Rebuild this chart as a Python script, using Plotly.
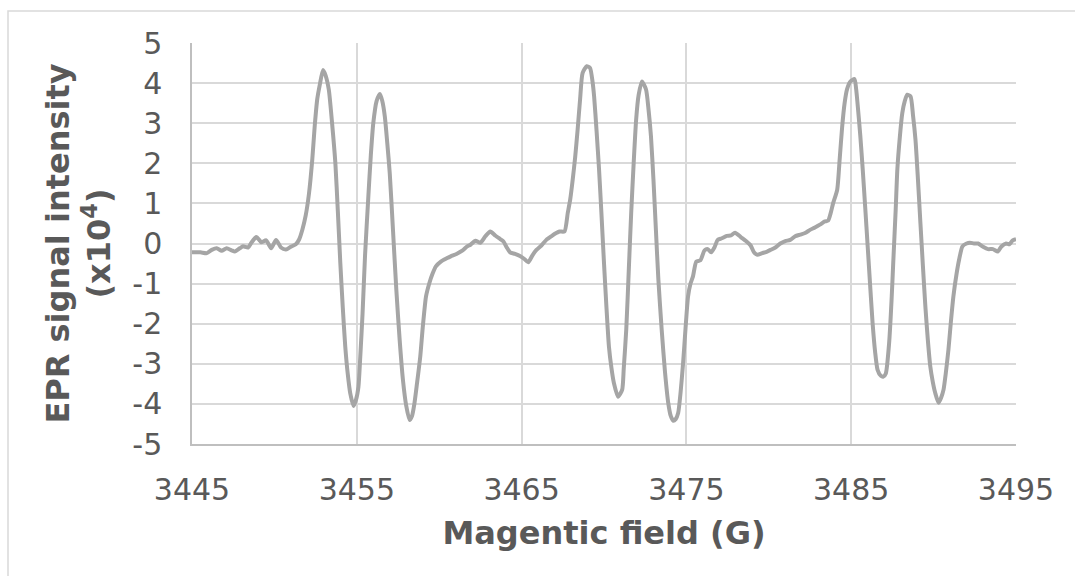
import plotly.graph_objects as go

field_g = [
    3445.0, 3445.5, 3445.9, 3446.2, 3446.5, 3446.8, 3447.1, 3447.4, 3447.6, 3447.9,
    3448.1, 3448.4, 3448.6, 3448.9, 3449.1, 3449.2, 3449.5, 3449.8, 3450.1, 3450.4,
    3450.7, 3451.0, 3451.3, 3451.5, 3451.7, 3451.9, 3452.1, 3452.3, 3452.45, 3452.6,
    3452.75, 3452.95, 3453.1, 3453.3, 3453.5, 3453.7, 3453.85, 3454.0, 3454.15, 3454.3,
    3454.45, 3454.6, 3454.8, 3454.95, 3455.1, 3455.2, 3455.35, 3455.5, 3455.7, 3455.85,
    3456.0, 3456.2, 3456.4, 3456.55, 3456.7, 3456.85, 3457.0, 3457.2, 3457.4, 3457.6,
    3457.8, 3458.0, 3458.2, 3458.35, 3458.5, 3458.65, 3458.85, 3459.0, 3459.2, 3459.4,
    3459.6, 3459.8, 3460.1, 3460.45, 3460.7, 3461.05, 3461.4, 3461.7, 3461.9, 3462.2,
    3462.5, 3462.8, 3463.1, 3463.4, 3463.7, 3463.9, 3464.1, 3464.3, 3464.6, 3464.9,
    3465.15, 3465.4, 3465.65, 3465.9, 3466.2, 3466.5, 3466.8, 3467.1, 3467.3, 3467.6,
    3467.8, 3467.95, 3468.1, 3468.25, 3468.4, 3468.55, 3468.7, 3468.95, 3469.15, 3469.3,
    3469.4, 3469.55, 3469.7, 3469.85, 3470.0, 3470.15, 3470.3, 3470.45, 3470.6, 3470.85,
    3471.1, 3471.2, 3471.35, 3471.5, 3471.65, 3471.8, 3471.95, 3472.1, 3472.3, 3472.55,
    3472.7, 3472.85, 3473.0, 3473.15, 3473.3, 3473.5, 3473.7, 3473.9, 3474.05, 3474.2,
    3474.35, 3474.5, 3474.65, 3474.8, 3474.95, 3475.1, 3475.25, 3475.4, 3475.6, 3475.85,
    3476.1, 3476.3, 3476.5, 3476.7, 3476.9, 3477.15, 3477.45, 3477.7, 3477.95, 3478.3,
    3478.65, 3478.9, 3479.1, 3479.3, 3479.6, 3479.9, 3480.1, 3480.4, 3480.7, 3481.0,
    3481.3, 3481.6, 3481.9, 3482.2, 3482.5, 3482.8, 3483.1, 3483.4, 3483.6, 3483.75,
    3483.9, 3484.15, 3484.3, 3484.45, 3484.6, 3484.75, 3484.95, 3485.2, 3485.3, 3485.4,
    3485.55, 3485.7, 3485.85, 3486.0, 3486.15, 3486.3, 3486.45, 3486.6, 3486.8, 3486.95,
    3487.1, 3487.3, 3487.45, 3487.55, 3487.7, 3487.8, 3487.95, 3488.1, 3488.25, 3488.4,
    3488.6, 3488.75, 3488.9, 3489.05, 3489.2, 3489.35, 3489.5, 3489.65, 3489.8, 3489.95,
    3490.1, 3490.3, 3490.45, 3490.6, 3490.75, 3490.9, 3491.05, 3491.2, 3491.4, 3491.55,
    3491.75, 3492.0, 3492.2, 3492.45, 3492.7, 3493.0, 3493.3, 3493.6, 3493.9, 3494.1,
    3494.4, 3494.6, 3494.8, 3495.0,
]

intensity_e4 = [
    -0.22, -0.22, -0.24, -0.16, -0.12, -0.18, -0.12, -0.17, -0.20, -0.12,
    -0.07, -0.10, 0.02, 0.16, 0.08, 0.03, 0.08, -0.12, 0.09, -0.10,
    -0.15, -0.08, -0.02, 0.10, 0.35, 0.70, 1.25, 2.10, 2.95, 3.60,
    3.95, 4.33, 4.20, 3.84, 3.00, 2.00, 0.80, -0.49, -1.60, -2.57,
    -3.25, -3.73, -4.05, -3.90, -3.57, -2.90, -1.74, -0.30, 1.17, 2.20,
    3.00, 3.55, 3.73, 3.55, 3.17, 2.50, 1.75, 0.30, -1.16, -2.40,
    -3.40, -4.05, -4.40, -4.30, -3.98, -3.50, -2.82, -2.10, -1.32, -0.99,
    -0.75, -0.57, -0.45, -0.37, -0.32, -0.26, -0.18, -0.07, -0.03, 0.07,
    0.02, 0.18, 0.30, 0.20, 0.11, 0.05, -0.10, -0.22, -0.26, -0.31,
    -0.38, -0.47, -0.30, -0.16, -0.05, 0.09, 0.18, 0.26, 0.30, 0.30,
    0.76, 1.10, 1.59, 2.15, 2.84, 3.60, 4.25, 4.42, 4.38, 4.05,
    3.67, 2.80, 1.84, 0.70, -0.49, -1.60, -2.57, -3.10, -3.48, -3.82,
    -3.65, -3.10, -2.15, -0.70, 0.76, 2.00, 3.09, 3.70, 4.04, 3.84,
    3.35, 2.67, 1.60, 0.34, -0.90, -2.15, -3.20, -3.98, -4.30, -4.42,
    -4.38, -4.23, -3.70, -2.98, -2.10, -1.32, -1.00, -0.82, -0.45, -0.42,
    -0.17, -0.14, -0.22, -0.10, 0.09, 0.13, 0.19, 0.20, 0.27, 0.16,
    0.05, -0.05, -0.22, -0.28, -0.24, -0.20, -0.16, -0.10, 0.00, 0.06,
    0.09, 0.18, 0.22, 0.26, 0.34, 0.40, 0.47, 0.55, 0.57, 0.75,
    1.00, 1.34, 2.10, 2.90, 3.50, 3.85, 4.04, 4.10, 3.85, 3.42,
    2.70, 1.84, 0.90, -0.07, -1.05, -1.99, -2.70, -3.15, -3.30, -3.32,
    -3.24, -2.49, -1.40, -0.49, 0.85, 1.84, 2.65, 3.25, 3.55, 3.71,
    3.67, 3.20, 2.59, 1.60, 0.51, -0.55, -1.57, -2.40, -3.07, -3.45,
    -3.73, -3.97, -3.85, -3.65, -3.20, -2.65, -1.95, -1.32, -0.74, -0.40,
    -0.07, 0.00, 0.02, 0.00, 0.00, -0.08, -0.14, -0.14, -0.20, -0.08,
    0.00, -0.02, 0.08, 0.11,
]

x_ticks = [3445, 3455, 3465, 3475, 3485, 3495]
y_ticks = [-5, -4, -3, -2, -1, 0, 1, 2, 3, 4, 5]

FONT = "DejaVu Sans"
TXT = "#595959"
GRID = "#d9d9d9"
AXIS = "#bfbfbf"

fig = go.Figure()
fig.add_trace(go.Scatter(
    x=field_g, y=intensity_e4, mode="lines",
    line=dict(color="#a5a5a5", width=4, shape="spline", smoothing=0.6),
    showlegend=False, hoverinfo="x+y",
))

W, H = 1075, 576
L, R, T, B = 192, 59, 43, 132
pw, ph = W - L - R, H - T - B

def px_x(p):
    return (p - L) / pw

def px_y(p):
    return (H - B - p) / ph

fig.update_layout(
    width=W, height=H,
    margin=dict(l=L, r=R, t=T, b=B),
    paper_bgcolor="white", plot_bgcolor="white",
    font=dict(family=FONT, color=TXT, size=30),
    xaxis=dict(
        range=[3445, 3495], tickvals=x_ticks, ticktext=[str(v) for v in x_ticks],
        showgrid=True, gridcolor=GRID, gridwidth=1.5,
        showline=True, linecolor=AXIS, linewidth=1.5, mirror=False,
        zeroline=False, ticks="", ticklabelstandoff=18,
        tickfont=dict(family=FONT, size=30, color=TXT),
        title=dict(text="<b>Magentic field (G)</b>", standoff=16,
                   font=dict(family=FONT, size=32, color=TXT)),
    ),
    yaxis=dict(
        range=[-5, 5], tickvals=y_ticks, ticktext=[str(v) for v in y_ticks],
        showgrid=True, gridcolor=GRID, gridwidth=1.5,
        showline=True, linecolor=AXIS, linewidth=1.5,
        zeroline=False, ticks="", ticklabelstandoff=22,
        tickfont=dict(family=FONT, size=30, color=TXT),
        title=dict(text="<b>EPR signal intensity<br>(x10<sup>4</sup>)</b>", standoff=12,
                   font=dict(family=FONT, size=32, color=TXT)),
    ),
    shapes=[dict(
        type="rect", xref="paper", yref="paper",
        x0=px_x(8), x1=px_x(1090), y0=px_y(590), y1=px_y(11),
        line=dict(color=GRID, width=1.5), fillcolor="rgba(0,0,0,0)", layer="below",
    )],
)

fig.write_html("out.html")
